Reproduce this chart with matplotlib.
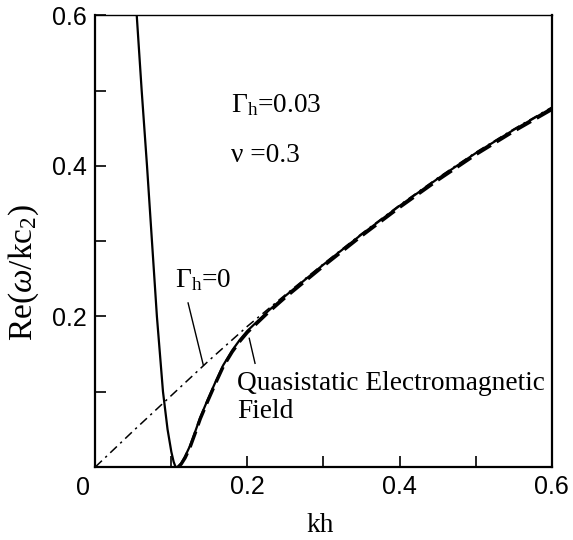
import matplotlib
matplotlib.use("Agg")
import matplotlib.pyplot as plt

plt.rcParams['mathtext.fontset'] = 'custom'
plt.rcParams['mathtext.rm'] = 'Liberation Serif'
plt.rcParams['mathtext.it'] = 'Liberation Serif:italic'
plt.rcParams['mathtext.bf'] = 'Liberation Serif:bold'

# Gamma_h = 0.03 dispersion branch (thin solid, full)
kh_g03 = [0.0545, 0.0610, 0.0680, 0.0745, 0.0810, 0.0890, 0.0950, 0.1000, 0.1030, 0.1055,
          0.1090, 0.1130, 0.1180, 0.1245, 0.1310, 0.1380, 0.1480, 0.1580, 0.1680, 0.1800, 0.1900,
          0.2000, 0.2275, 0.2500, 0.3000, 0.3500, 0.4000, 0.4500, 0.5000, 0.5500, 0.6000]
re_g03 = [0.600, 0.500, 0.400, 0.300, 0.200, 0.100, 0.050, 0.020, 0.007, 0.000,
          0.000, 0.005, 0.014, 0.028, 0.046, 0.066, 0.090, 0.113, 0.135, 0.155, 0.169,
          0.181, 0.2075, 0.2275, 0.269, 0.309, 0.347, 0.383, 0.417, 0.448, 0.477]

# Quasistatic electromagnetic field approximation (dashed)
kh_qs = [0.1090, 0.1130, 0.1180, 0.1245, 0.1310, 0.1380, 0.1480, 0.1580, 0.1680, 0.1800, 0.1900,
         0.2000, 0.2275, 0.2500, 0.3000, 0.3500, 0.4000, 0.4500, 0.5000, 0.5500, 0.6000]
re_qs = [0.000, 0.004, 0.012, 0.026, 0.044, 0.064, 0.088, 0.111, 0.133, 0.153, 0.167,
         0.179, 0.2055, 0.2255, 0.267, 0.307, 0.345, 0.381, 0.415, 0.446, 0.475]

# Gamma_h = 0 (dash-dot)
kh_g0 = [0.0, 0.05, 0.10, 0.15, 0.20, 0.25, 0.30, 0.35, 0.40, 0.45, 0.50, 0.55, 0.60]
re_g0 = [0.0, 0.048, 0.095, 0.142, 0.187, 0.229, 0.270, 0.310, 0.348, 0.384, 0.418, 0.449, 0.478]

xticks = [0.2, 0.4, 0.6]
xticklabels = ['0.2', '0.4', '0.6']
yticks = [0.2, 0.4, 0.6]
yticklabels = ['0.2', '0.4', '0.6']
minor_ticks = [0.1, 0.3, 0.5]
origin_label = '0'

fig = plt.figure(figsize=(5.73, 5.40), dpi=100)
ax = fig.add_axes([0.1663, 0.1352, 0.7965, 0.8361])

ax.plot(kh_g0, re_g0, color='black', lw=1.1, linestyle=(0, (6, 3, 1.5, 3)))
ax.plot(kh_g03, re_g03, color='black', lw=1.6, solid_capstyle='butt')
ax.plot(kh_qs, re_qs, color='black', lw=2.4, linestyle=(0, (5, 2)))

ax.set_xlim(0, 0.6)
ax.set_ylim(0, 0.6)
ax.set_xticks(xticks)
ax.set_xticklabels(xticklabels)
ax.set_yticks(yticks)
ax.set_yticklabels(yticklabels)
ax.set_xticks(minor_ticks, minor=True)
ax.set_yticks(minor_ticks, minor=True)
ax.tick_params(which='both', direction='in', length=8, width=1.2, top=False, right=False)
ax.tick_params(which='major', pad=6)
for lab in ax.get_xticklabels() + ax.get_yticklabels():
    lab.set_fontfamily('Liberation Sans')
    lab.set_fontsize(18)
for s in ['left', 'bottom', 'right']:
    ax.spines[s].set_linewidth(1.6)
ax.spines['top'].set_linewidth(1.0)

# single origin label, lower-left of the corner
ax.annotate(origin_label, xy=(0, 0), xycoords='data', xytext=(-9, -15), textcoords='offset points',
            ha='center', va='center', fontsize=18, family='Liberation Sans')

serif = 'Liberation Serif'
fs = 19.7
ax.text(0.179, 0.472, r'$\Gamma_{\mathrm{h}}$=0.03', fontsize=fs, family=serif, va='baseline')
ax.text(0.179, 0.405, 'ν =0.3', fontsize=fs, family=serif, va='baseline')
ax.text(0.1048, 0.239, r'$\Gamma_{\mathrm{h}}$=0', fontsize=fs, family=serif, va='baseline')
ax.text(0.186, 0.1023, 'Quasistatic Electromagnetic', fontsize=fs, family=serif, va='baseline')
ax.text(0.186, 0.0651, 'Field', fontsize=fs, family=serif, va='baseline')

# leader lines
ax.plot([0.122, 0.142], [0.218, 0.1355], color='black', lw=1.0)
ax.plot([0.2024, 0.210], [0.171, 0.1378], color='black', lw=1.0)

fig.text(0.5585, 0.0148, 'kh', fontsize=fs, family=serif, ha='center', va='baseline')
fig.text(0.042, 0.496, r'Re($\omega$/kc$_2$)', fontsize=24, family=serif, rotation=90,
         ha='center', va='center')

fig.savefig('out.png', dpi=100)
